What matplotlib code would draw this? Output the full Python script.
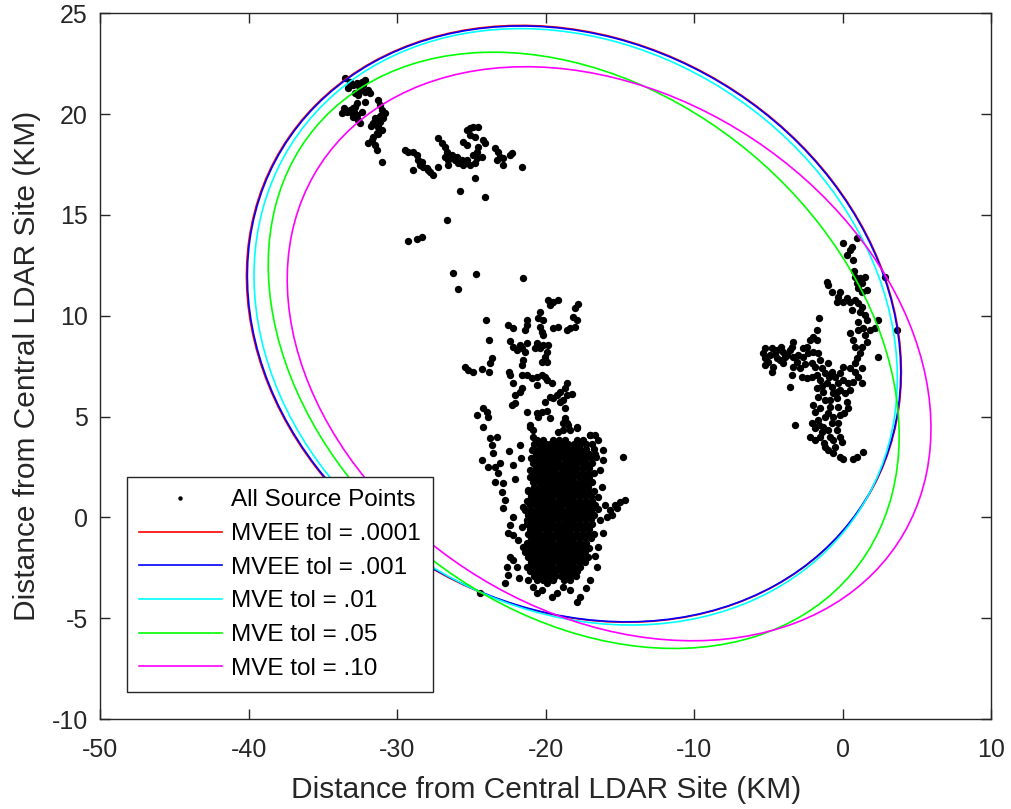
import numpy as np
import matplotlib
matplotlib.use("Agg")
import matplotlib.pyplot as plt
from matplotlib.patches import Ellipse
from matplotlib.lines import Line2D

plt.rcParams['font.family'] = ['Liberation Sans', 'DejaVu Sans']
plt.rcParams['axes.unicode_minus'] = False

# --- джерела LDAR (км), по кластерах ---
nw_pts = [
    (-33.54, 21.78), (-33.20, 21.61), (-32.98, 21.45), (-32.75, 21.53), (-32.42, 21.61),
    (-32.19, 21.69), (-32.31, 21.45), (-32.53, 21.20), (-32.87, 21.03), (-32.64, 20.95),
    (-32.19, 21.12), (-31.97, 21.20), (-31.86, 21.03), (-32.75, 20.54), (-32.87, 20.37),
    (-33.20, 20.21), (-33.43, 20.12), (-33.09, 20.04), (-32.98, 19.88), (-32.75, 19.96),
    (-32.42, 20.12), (-32.64, 19.71), (-32.53, 19.55), (-33.76, 20.04), (-31.30, 20.70),
    (-31.18, 20.45), (-31.07, 20.21), (-30.85, 20.04), (-30.96, 19.79), (-31.18, 19.63),
    (-31.52, 19.79), (-31.63, 19.55), (-31.30, 19.38), (-31.07, 19.22), (-31.41, 19.05),
    (-31.63, 18.88), (-31.74, 18.72), (-31.97, 18.55), (-31.52, 18.47), (-31.41, 18.22),
    (-31.07, 17.64), (-33.30, 21.30), (-32.60, 21.40), (-33.00, 20.30), (-32.20, 20.60),
    (-32.90, 20.10), (-31.20, 19.90), (-31.30, 19.00), (-31.80, 19.40), (-33.60, 20.30),
]

n_pts = [
    (-29.50, 18.22), (-29.27, 18.14), (-28.94, 18.14), (-28.71, 17.98), (-28.60, 17.73),
    (-28.38, 17.64), (-28.26, 17.40), (-28.04, 17.31), (-27.82, 17.15), (-27.59, 16.98),
    (-27.93, 17.23), (-28.94, 17.23), (-28.49, 17.48), (-27.25, 18.80), (-27.03, 18.55),
    (-26.80, 18.39), (-26.69, 18.14), (-26.80, 17.89), (-26.58, 17.73), (-26.58, 17.48),
    (-27.25, 17.40), (-26.36, 17.98), (-26.13, 17.73), (-25.91, 17.56), (-25.57, 17.48),
    (-25.35, 17.73), (-25.12, 17.48), (-24.79, 17.56), (-24.67, 17.81), (-24.67, 18.14),
    (-24.56, 18.39), (-25.35, 19.21), (-25.12, 19.30), (-24.90, 19.38), (-24.56, 19.38),
    (-25.12, 18.97), (-24.79, 18.88), (-25.57, 18.64), (-25.35, 18.47), (-24.22, 18.72),
    (-24.11, 18.55), (-24.34, 17.89), (-24.90, 17.98), (-23.44, 18.31), (-23.22, 18.14),
    (-23.10, 17.89), (-23.33, 17.73), (-22.88, 17.81), (-22.88, 17.48), (-22.43, 17.98),
    (-22.32, 18.06), (-21.64, 17.40), (-26.02, 17.89), (-25.68, 17.73),
]

sparse_pts = [
    (-24.79, 16.82), (-25.79, 16.20), (-24.08, 15.90), (-26.69, 14.75), (-29.27, 13.72),
    (-28.71, 13.80), (-28.37, 13.89), (-26.24, 12.10), (-24.71, 12.05), (-21.57, 11.89),
    (-25.95, 11.33), (-24.04, 9.80), (-23.84, 8.81), (-24.44, -3.75),
]

column_pts = [
    (-19.84, 10.78), (-19.51, 10.70), (-19.17, 10.78), (-19.73, 10.53), (-17.82, 10.56),
    (-18.05, 10.37), (-20.41, 10.20), (-20.52, 9.87), (-20.18, 9.79), (-18.16, 9.95),
    (-17.94, 9.79), (-18.05, 9.46), (-18.38, 9.37), (-18.61, 9.29), (-19.17, 9.46),
    (-19.51, 9.37), (-20.41, 9.46), (-20.29, 9.21), (-20.18, 9.04), (-21.30, 9.79),
    (-21.30, 9.54), (-21.42, 9.29), (-22.54, 9.54), (-22.20, 9.37), (-22.42, 8.75),
    (-22.20, 8.46), (-21.98, 8.30), (-21.64, 8.38), (-21.42, 8.22), (-21.30, 8.63),
    (-21.75, 8.55), (-20.63, 8.63), (-20.41, 8.38), (-20.18, 8.55), (-19.84, 8.55),
    (-19.96, 8.22), (-20.07, 7.97), (-20.29, 7.72), (-19.96, 7.72), (-20.74, 8.38),
    (-21.53, 7.80), (-21.64, 7.56), (-23.66, 7.89), (-23.77, 7.64), (-25.45, 7.47),
    (-25.23, 7.31), (-24.89, 7.22), (-24.33, 7.36), (-23.82, 7.19), (-22.47, 7.22),
    (-22.42, 7.06), (-21.64, 7.06), (-21.30, 7.06), (-20.96, 6.89), (-20.63, 6.98),
    (-20.29, 7.06), (-20.07, 6.98), (-19.96, 6.81), (-19.62, 6.65), (-22.20, 6.65),
    (-21.64, 6.40), (-21.75, 6.23), (-22.09, 6.07), (-22.31, 5.57), (-22.09, 5.65),
    (-20.63, 6.56), (-18.61, 6.65), (-18.72, 6.40), (-19.05, 6.23), (-19.28, 6.07),
    (-19.51, 5.90), (-19.73, 5.98), (-20.07, 5.74), (-19.05, 5.74), (-18.83, 5.82),
    (-18.61, 6.07), (-18.27, 6.10), (-18.72, 5.40), (-24.22, 5.40), (-24.00, 5.24),
    (-24.67, 5.07), (-23.88, 4.99), (-21.30, 5.24), (-20.63, 5.16), (-20.29, 5.24),
    (-19.96, 5.27), (-20.52, 4.99), (-19.73, 4.91), (-18.72, 4.91), (-18.83, 4.66),
    (-18.50, 4.58), (-17.94, 4.41), (-24.22, 4.50), (-21.08, 4.58), (-20.85, 4.33),
    (-19.17, 4.25), (-18.83, 4.33), (-17.04, 4.08),
]

blob_edge_pts = [
    (-23.77, 3.92), (-23.32, 4.00), (-23.65, 3.59), (-23.54, 3.18), (-23.88, 2.51),
    (-23.43, 2.51), (-23.09, 2.68), (-23.21, 2.18), (-23.43, 1.77), (-22.87, 1.69),
    (-22.98, 1.27), (-22.76, 0.86), (-22.87, 0.45), (-22.20, 2.60), (-21.75, 3.59),
    (-24.33, 2.85), (-22.20, 0.03), (-22.53, -0.79), (-22.20, -0.87), (-21.86, -1.12),
    (-22.42, -1.95), (-22.20, -2.11), (-22.64, -2.45), (-22.53, -2.86), (-22.76, -3.27),
    (-21.97, -2.45), (-21.52, -1.45), (-21.63, -0.46), (-21.30, -0.13), (-21.52, 0.53),
    (-21.19, 1.36), (-21.07, 4.50), (-20.85, 4.00), (-20.96, 3.34), (-21.07, 2.35),
    (-20.85, -3.44), (-20.62, -3.77), (-20.29, -3.60), (-19.95, -3.27), (-18.60, 4.66),
    (-18.38, 4.33), (-17.93, 4.50), (-17.03, 4.09), (-16.70, 4.09), (-16.47, 3.84),
    (-16.14, 3.34), (-16.14, 2.85), (-16.36, 2.35), (-16.25, 1.52), (-16.47, 1.03),
    (-14.79, 3.01), (-14.68, 0.86), (-15.01, 0.78), (-15.35, 0.61), (-15.69, 0.37),
    (-15.91, 0.03), (-15.57, 0.12), (-15.24, 0.45), (-16.36, -0.13), (-16.14, -0.79),
    (-16.47, -1.45), (-16.58, -2.45), (-17.03, -3.11), (-17.71, -3.93), (-17.93, -4.18),
    (-18.38, -3.60), (-18.83, -3.44), (-19.28, -3.77), (-19.62, -3.93),
    (-22.50, 3.30), (-22.10, 1.90), (-21.70, 2.95), (-22.40, -0.40), (-21.80, -3.00),
    (-16.60, 3.00), (-16.50, 0.40), (-16.00, 0.60), (-16.70, -1.90), (-17.30, -3.50),
]

# щільне ядро: (y рядка, x точок у рядку)
blob_core_rows = [
    (3.85, [-20.6, -20.2, -19.5, -19.1, -18.7, -17.9, -17.5]),
    (3.62, [-20.8, -20.4, -20.0, -19.7, -19.3, -18.9, -18.5, -18.1, -17.7, -17.3, -16.9]),
    (3.40, [-20.9, -20.5, -20.2, -19.8, -19.5, -19.1, -18.8, -18.4, -18.0, -17.7, -17.3, -16.8]),
    (3.15, [-20.7, -20.3, -20.0, -19.6, -19.3, -18.9, -18.6, -18.2, -17.9, -17.5, -17.1, -16.7]),
    (2.93, [-21.0, -20.6, -20.2, -19.9, -19.5, -19.2, -18.8, -18.5, -18.1, -17.8, -17.4, -17.0]),
    (2.70, [-20.9, -20.5, -20.1, -19.8, -19.4, -19.1, -18.7, -18.4, -18.0, -17.6, -17.3, -16.9]),
    (2.46, [-20.7, -20.3, -20.0, -19.6, -19.3, -18.9, -18.6, -18.2, -17.9, -17.5, -17.1]),
    (2.22, [-20.8, -20.4, -20.1, -19.7, -19.4, -19.0, -18.7, -18.3, -18.0, -17.6, -17.2, -16.8]),
    (2.00, [-21.1, -20.7, -20.3, -20.0, -19.6, -19.3, -18.9, -18.6, -18.2, -17.8, -17.5, -17.1]),
    (1.76, [-20.9, -20.5, -20.2, -19.8, -19.5, -19.1, -18.8, -18.4, -18.1, -17.7, -17.3, -16.9]),
    (1.53, [-20.8, -20.4, -20.0, -19.7, -19.3, -19.0, -18.6, -18.3, -17.9, -17.6, -17.2]),
    (1.30, [-21.2, -20.8, -20.4, -20.1, -19.7, -19.4, -19.0, -18.7, -18.3, -18.0, -17.6, -17.2, -16.8]),
    (1.06, [-21.0, -20.6, -20.3, -19.9, -19.6, -19.2, -18.9, -18.5, -18.2, -17.8, -17.4, -17.0]),
    (0.83, [-21.3, -20.9, -20.5, -20.2, -19.8, -19.5, -19.1, -18.8, -18.4, -18.1, -17.7, -17.3, -16.9]),
    (0.60, [-21.1, -20.7, -20.4, -20.0, -19.7, -19.3, -19.0, -18.6, -18.3, -17.9, -17.5, -17.1, -16.7]),
    (0.36, [-21.4, -21.0, -20.6, -20.3, -19.9, -19.6, -19.2, -18.9, -18.5, -18.2, -17.8, -17.4, -17.0]),
    (0.12, [-21.2, -20.8, -20.5, -20.1, -19.8, -19.4, -19.1, -18.7, -18.4, -18.0, -17.6, -17.2, -16.8]),
    (-0.10, [-21.0, -20.6, -20.2, -19.9, -19.5, -19.2, -18.8, -18.5, -18.1, -17.8, -17.4, -17.0]),
    (-0.34, [-21.3, -20.9, -20.5, -20.2, -19.8, -19.5, -19.1, -18.8, -18.4, -18.1, -17.7, -17.3, -16.9]),
    (-0.57, [-21.1, -20.7, -20.4, -20.0, -19.7, -19.3, -19.0, -18.6, -18.3, -17.9, -17.5, -17.1]),
    (-0.80, [-21.2, -20.8, -20.5, -20.1, -19.8, -19.4, -19.1, -18.7, -18.4, -18.0, -17.6, -17.2, -16.8]),
    (-1.04, [-21.0, -20.6, -20.3, -19.9, -19.6, -19.2, -18.9, -18.5, -18.2, -17.8, -17.4, -17.0]),
    (-1.27, [-21.3, -20.9, -20.5, -20.2, -19.8, -19.5, -19.1, -18.8, -18.4, -18.1, -17.7, -17.3]),
    (-1.50, [-21.1, -20.7, -20.4, -20.0, -19.7, -19.3, -19.0, -18.6, -18.3, -17.9, -17.5, -17.1]),
    (-1.74, [-21.4, -21.0, -20.6, -20.3, -19.9, -19.6, -19.2, -18.9, -18.5, -18.2, -17.8, -17.4]),
    (-1.97, [-21.2, -20.8, -20.5, -20.1, -19.8, -19.4, -19.1, -18.7, -18.4, -18.0, -17.6, -17.2]),
    (-2.20, [-21.0, -20.6, -20.3, -19.9, -19.6, -19.2, -18.9, -18.5, -18.2, -17.8, -17.4]),
    (-2.44, [-21.3, -20.9, -20.5, -20.2, -19.8, -19.5, -19.1, -18.8, -18.4, -18.1, -17.7]),
    (-2.67, [-21.1, -20.7, -20.3, -20.0, -19.6, -19.3, -18.9, -18.6, -18.2, -17.9]),
    (-2.90, [-20.8, -20.4, -20.1, -19.7, -19.4, -19.0, -18.7, -18.3, -18.0]),
    (-3.12, [-21.2, -20.6, -20.2, -19.8, -19.5, -18.8, -18.4]),
]

east_pts = [
    (0.92, 13.84), (0.02, 13.59), (0.58, 13.42), (0.47, 13.26), (0.70, 12.76),
    (0.81, 11.94), (1.14, 11.85), (1.48, 11.94), (0.92, 11.61), (1.03, 11.36),
    (1.26, 11.19), (1.59, 11.27), (-1.10, 11.69), (-0.99, 11.52), (-0.76, 11.19),
    (-0.20, 11.19), (-0.31, 10.94), (-0.43, 10.70), (0.25, 10.86), (0.47, 10.70),
    (0.81, 10.78), (1.03, 10.61), (1.26, 10.45), (1.14, 10.20), (1.48, 10.04),
    (1.59, 9.79), (1.37, 9.37), (1.03, 9.29), (1.82, 9.29), (2.16, 9.37),
    (2.38, 9.79), (3.61, 9.29), (2.83, 11.94), (0.02, 10.70), (-1.62, 9.87),
    (-1.77, 9.29), (-2.00, 8.96), (-2.22, 8.79), (-2.45, 8.46), (-2.67, 8.38),
    (-3.34, 8.71), (-3.46, 8.46), (-3.57, 8.30), (-4.02, 8.22), (-4.47, 8.30),
    (-4.80, 8.38), (-5.25, 8.38), (-5.36, 8.13), (-5.25, 7.88), (-5.25, 7.55),
    (-4.80, 7.22), (-4.69, 7.47), (-4.24, 7.80), (-3.79, 8.05), (-3.34, 7.97),
    (-3.01, 8.05), (-2.67, 7.97), (-2.33, 8.13), (-2.00, 8.22), (-1.66, 8.13),
    (-2.11, 7.64), (-1.89, 7.47), (-1.44, 7.39), (-3.34, 7.47), (-2.89, 7.39),
    (-3.46, 7.06), (-2.78, 6.98), (-2.45, 6.89), (-2.11, 6.98), (-1.21, 7.14),
    (-0.76, 7.22), (-0.54, 6.98), (-1.55, 6.81), (-1.10, 6.64), (-0.76, 6.48),
    (-0.31, 6.64), (-0.20, 6.31), (-0.65, 6.15), (-1.32, 6.23), (-1.77, 6.40),
    (-1.66, 5.98), (-1.21, 5.82), (-0.43, 5.90), (0.14, 6.15), (0.25, 5.74),
    (0.36, 5.41), (-2.00, 5.57), (-1.89, 5.24), (-1.55, 5.41), (-0.88, 5.49),
    (-0.31, 5.49), (-0.20, 5.07), (-0.65, 4.99), (-1.21, 4.99), (-1.66, 4.83),
    (-2.11, 4.66), (-3.23, 4.58), (-1.89, 4.41), (-1.44, 4.25), (-0.99, 4.33),
    (-0.43, 4.33), (-0.20, 3.99), (-0.09, 3.75), (-2.22, 3.99), (-1.89, 3.83),
    (-1.21, 3.50), (-0.99, 3.34), (-0.65, 3.17), (-0.20, 3.01), (0.02, 2.92),
    (0.70, 2.92), (0.92, 3.01), (1.37, 3.26), (-3.57, 6.48), (0.47, 9.12),
    (0.70, 8.79), (0.81, 8.46), (1.26, 8.46), (1.59, 8.71), (1.48, 9.04),
    (1.14, 8.13), (0.92, 7.88), (0.81, 7.64), (0.81, 7.22), (1.03, 6.98),
    (0.70, 6.73), (0.36, 6.64), (1.26, 6.64), (1.26, 7.39), (2.38, 7.97),
    (-1.77, 8.79), (-1.55, 7.80), (-0.99, 7.64), (0.02, 7.47), (0.47, 7.39),
    (0.47, 6.31), (-0.20, 7.14), (0.02, 6.81), (-0.88, 5.82), (-1.32, 4.50),
    (-0.76, 4.66), (-1.55, 3.99), (-0.65, 3.83), (-0.54, 3.50), (-4.91, 8.05),
    (-4.47, 7.88), (-4.02, 7.64), (-5.03, 7.72),
    (-4.60, 8.10), (-4.20, 8.45), (-3.90, 7.95), (-3.10, 7.70), (-2.55, 7.60),
    (-1.75, 7.05), (-1.40, 6.50), (-0.95, 6.95), (-0.40, 6.20), (-1.00, 5.20),
    (-1.60, 4.60), (-0.90, 4.00), (-1.30, 3.70), (-0.35, 4.70), (0.10, 5.20),
    (1.00, 9.70), (0.60, 10.30), (1.30, 11.60), (0.75, 12.20), (0.30, 13.00),
]

# --- еліпси: центр і матриця форми (x-c)^T S^-1 (x-c) = 1 ---
ell_labels = ['MVEE tol = .0001', 'MVEE tol = .001', 'MVE tol = .01', 'MVE tol = .05', 'MVE tol = .10']
ell_colors = ['#ff0000', '#0000ff', '#00ffff', '#00ff00', '#ff00ff']
ell_cx = [-18.12, -18.11, -18.00, -17.46, -15.75]
ell_cy = [9.60, 9.595, 9.45, 8.285, 8.115]
ell_sxx = [486.2, 484.0, 469.2, 451.3, 469.8]
ell_syy = [219.0, 218.3, 218.7, 218.6, 202.6]
ell_sxy = [-52.5, -52.5, -55.0, -90.0, -80.0]

x_ticks = [-50, -40, -30, -20, -10, 0, 10]
y_ticks = [-10, -5, 0, 5, 10, 15, 20, 25]


def ellipse_patch(cx, cy, sxx, sxy, syy, color):
    # півосі та кут з власних чисел матриці форми
    vals, vecs = np.linalg.eigh(np.array([[sxx, sxy], [sxy, syy]]))
    w = 2 * np.sqrt(vals[1])
    h = 2 * np.sqrt(vals[0])
    ang = np.degrees(np.arctan2(vecs[1, 1], vecs[0, 1]))
    return Ellipse((cx, cy), w, h, angle=ang, fill=False, edgecolor=color, linewidth=1.2, zorder=3)


pts = nw_pts + n_pts + sparse_pts + column_pts + blob_edge_pts + east_pts
for yr, xs in blob_core_rows:
    pts += [(xv, yr) for xv in xs]
pts = np.array(pts)

fig = plt.figure(figsize=(10.11, 8.09), dpi=100)
ax = fig.add_axes([0.0994, 0.1112, 0.8813, 0.8724])

ax.plot(pts[:, 0], pts[:, 1], 'o', color='k', markersize=5.3, markeredgewidth=0, zorder=2)

for i in range(len(ell_labels)):
    ax.add_patch(ellipse_patch(ell_cx[i], ell_cy[i], ell_sxx[i], ell_sxy[i], ell_syy[i], ell_colors[i]))

ax.set_xlim(-50, 10)
ax.set_ylim(-10, 25)
ax.set_xticks(x_ticks)
ax.set_yticks(y_ticks)

frame_col = '#262626'
for s in ax.spines.values():
    s.set_color(frame_col)
    s.set_linewidth(1.0)
ax.tick_params(direction='in', length=7, width=1.0, colors=frame_col, labelsize=18,
               top=True, right=True)
ax.tick_params(axis='x', pad=14)
ax.tick_params(axis='y', pad=9)

ax.set_xlabel('Distance from Central LDAR Site (KM)', fontsize=21.5, color='#262626', labelpad=10)
ax.set_ylabel('Distance from Central LDAR Site (KM)', fontsize=21.5, color='#262626', labelpad=8)

handles = [Line2D([], [], linestyle='none', marker='o', color='k', markersize=3.2, markeredgewidth=0)]
handles += [Line2D([], [], color=c, linewidth=1.2) for c in ell_colors]
leg = ax.legend(handles, ['All Source Points'] + ell_labels, loc='lower left',
                bbox_to_anchor=(0.0297, 0.0383), fontsize=17.5, frameon=True, fancybox=False,
                framealpha=1, edgecolor='#262626', handlelength=3.4, handletextpad=0.4,
                labelspacing=0.48, borderpad=0.5, borderaxespad=0)
leg.get_frame().set_linewidth(1.0)
leg.set_zorder(5)

fig.savefig('out.png', dpi=100)
